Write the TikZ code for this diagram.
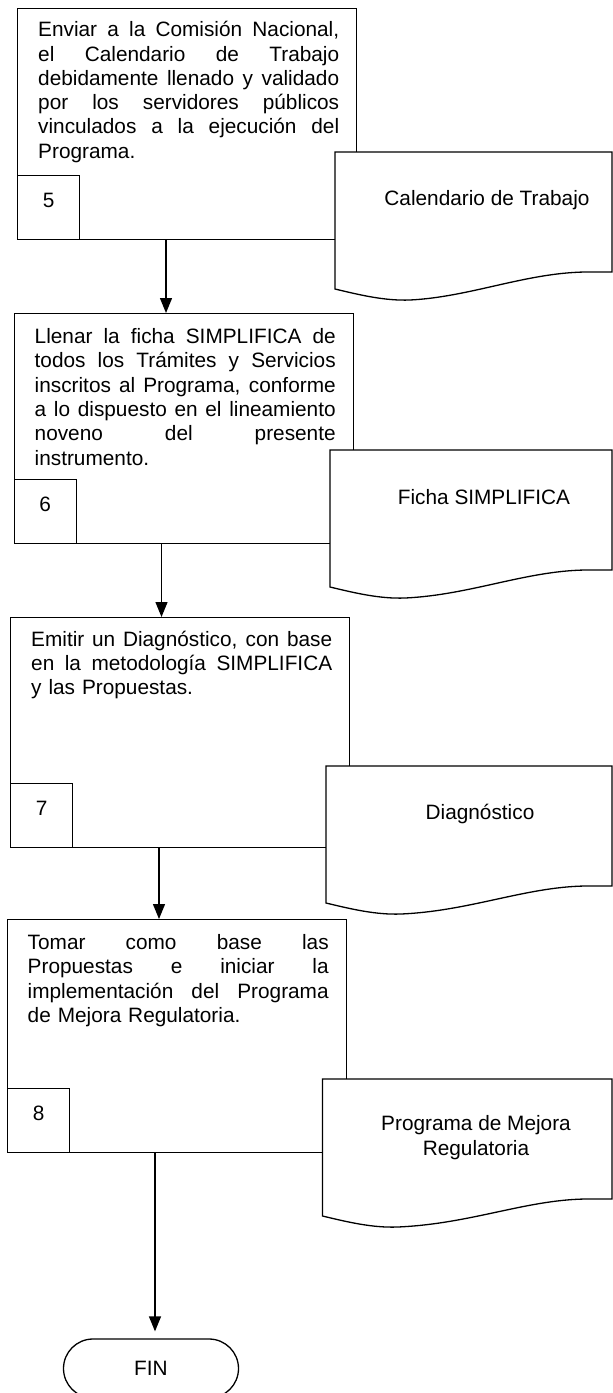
\documentclass[tikz,border=0pt]{standalone}
\usepackage{fontspec}
\setmainfont{Liberation Sans}
\usetikzlibrary{arrows.meta}
\newcommand\mydoc[2]{%
  \draw[docline] (#1,#2) -- (612,#2) -- (612,#2+120) -- (585,#2+120)
    .. controls (525,#2+121) and (470,#2+145) .. (#1+75,#2+148)
    .. controls (#1+50,#2+149) and (#1+25,#2+143) .. (#1,#2+137) -- cycle;}
\newcommand\jl[1]{\makebox[301pt][s]{\spaceskip=0.278em plus 1fil\relax #1}\\}
\begin{document}
\begin{tikzpicture}[x=1pt,y=-1pt,
  procbox/.style={draw, line width=1.3pt, fill=white, anchor=north west,
    minimum width=339pt, inner sep=0pt},
  numbox/.style={draw, line width=1.3pt, anchor=south west, minimum width=62pt,
    minimum height=64pt, inner sep=0pt, text depth=14pt,
    font=\fontsize{20.8}{24}\selectfont},
  btext/.style={anchor=north west, inner sep=0pt, text width=301pt, align=left,
    font=\fontsize{20.8}{24.3}\selectfont},
  dtext/.style={inner sep=0pt, align=center, font=\fontsize{20.8}{25}\selectfont},
  docline/.style={draw, line width=1.3pt, fill=white, line join=miter},
  flow/.style={draw, line width=1.3pt, -{Triangle[width=12pt,length=15pt]}},
  term/.style={draw, line width=1.3pt, rounded corners=29.5pt, minimum width=175pt,
    minimum height=59pt, inner sep=0pt, font=\fontsize{20.8}{24}\selectfont}
]
\useasboundingbox[fill=white] (0,0) rectangle (613,1393);

% Box 1
\node[procbox, minimum height=231pt] (b1) at (17,8) {};
\node[numbox] (n1) at (b1.south west) {5};
\node[btext] (t1) at (38,19.5) {%
\jl{\strut Enviar a la Comisión Nacional,}
\jl{el Calendario de Trabajo}
\jl{debidamente llenado y validado}
\jl{por los servidores públicos}
\jl{vinculados a la ejecución del}
Programa.};
\mydoc{335}{152}
\node[dtext] (d1) at (487,200) {Calendario de Trabajo};

% Box 2
\node[procbox, minimum height=230pt] (b2) at (13.5,313) {};
\node[numbox] (n2) at (b2.south west) {6};
\node[btext] (t2) at (34.5,326.3) {%
\jl{\strut Llenar la ficha SIMPLIFICA de}
\jl{todos los Trámites y Servicios}
\jl{inscritos al Programa, conforme}
\jl{a lo dispuesto en el lineamiento}
\jl{noveno del presente}
instrumento.};
\mydoc{330}{450}
\node[dtext] (d2) at (484,497) {Ficha SIMPLIFICA};

% Box 3
\node[procbox, minimum height=230pt] (b3) at (10,617) {};
\node[numbox] (n3) at (b3.south west) {7};
\node[btext] (t3) at (31,629) {%
\jl{\strut Emitir un Diagnóstico, con base}
\jl{en la metodología SIMPLIFICA}
y las Propuestas.};
\mydoc{326}{766}
\node[dtext] (d3) at (480,814) {Diagnóstico};

% Box 4
\node[procbox, minimum height=233pt] (b4) at (7,919) {};
\node[numbox] (n4) at (b4.south west) {8};
\node[btext] (t4) at (27.5,932.3) {%
\jl{\strut Tomar como base las}
\jl{Propuestas e iniciar la}
\jl{implementación del Programa}
de Mejora Regulatoria.};
\mydoc{322.5}{1079}
\node[dtext] (d4) at (476,1137.5) {Programa de Mejora\\Regulatoria};

% FIN
\node[term] (fin) at (151,1368.5) {FIN};

% Connectors
\draw[flow] ([xshift=149pt]b1.south west) -- ([xshift=149pt]b1.south west |- b2.north);
\draw[flow] ([xshift=148pt]b2.south west) -- ([xshift=148pt]b2.south west |- b3.north);
\draw[flow] ([xshift=149pt]b3.south west) -- ([xshift=149pt]b3.south west |- b4.north);
\draw[flow, shorten >=7pt] ([xshift=148pt]b4.south west) -- ([xshift=148pt]b4.south west |- fin.north);
\end{tikzpicture}
\end{document}
